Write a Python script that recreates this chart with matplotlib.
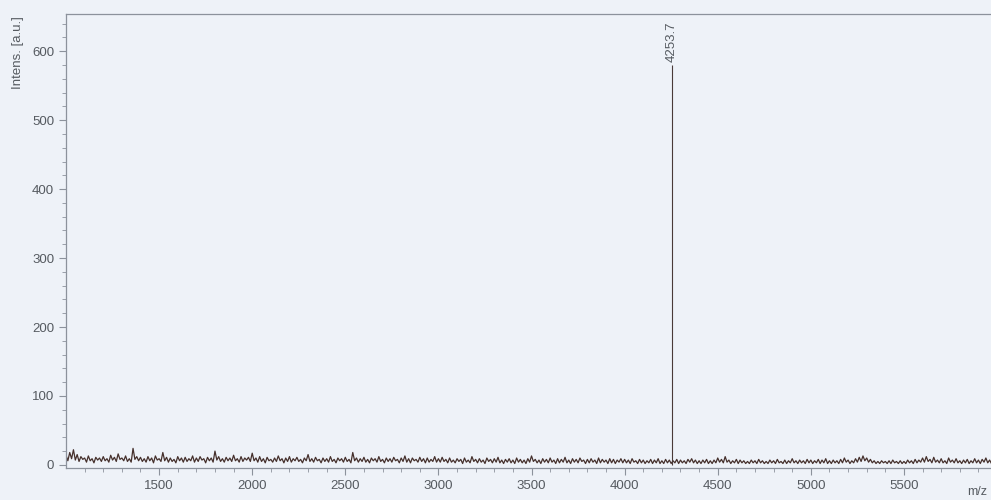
import numpy as np
import matplotlib
matplotlib.use("Agg")
import matplotlib.pyplot as plt

# baseline noise in 10 Da steps
mz_start = 1000
mz_step = 10
noise_1000 = [14, 6, 18, 9, 22, 7, 15, 5, 12, 8, 10, 4, 13, 6, 9, 3, 11, 7, 10, 5,
              12, 6, 9, 4, 14, 7, 11, 5, 16, 8, 10, 6, 13, 5, 9, 4, 24, 8, 12, 6,
              11, 5, 9, 4, 12, 6, 10, 3, 13, 7, 9, 5, 18, 6, 11, 4, 10, 5, 8, 3,
              12, 6, 10, 4, 11, 5, 9, 6, 13, 4, 10, 5, 12, 7, 9, 3, 11, 6, 10, 4,
              20, 7, 12, 5, 9, 4, 11, 6, 10, 5, 14, 6, 9, 4, 12, 5, 10, 7, 11, 5]
noise_2000 = [17, 6, 10, 4, 12, 5, 9, 3, 11, 6, 8, 4, 10, 5, 13, 6, 9, 3, 10, 5,
              12, 4, 9, 6, 11, 5, 8, 3, 10, 6, 15, 5, 9, 4, 11, 6, 8, 3, 10, 5,
              9, 4, 12, 5, 8, 3, 10, 6, 9, 4, 11, 5, 8, 3, 18, 6, 10, 4, 9, 5,
              11, 4, 8, 3, 10, 6, 9, 4, 12, 5, 8, 3, 10, 5, 9, 4, 11, 6, 8, 3,
              10, 5, 13, 4, 9, 3, 10, 6, 8, 4, 11, 5, 9, 3, 10, 4, 8, 5, 12, 4]
noise_3000 = [9, 4, 11, 5, 8, 3, 10, 4, 7, 3, 9, 5, 8, 2, 10, 4, 7, 3, 12, 5,
              8, 3, 9, 4, 7, 2, 10, 5, 8, 3, 9, 4, 11, 3, 7, 2, 8, 4, 9, 3,
              7, 2, 10, 4, 8, 3, 7, 2, 9, 4, 13, 5, 8, 3, 7, 2, 9, 4, 8, 3,
              10, 4, 7, 2, 9, 3, 8, 4, 11, 3, 7, 2, 9, 4, 8, 3, 10, 5, 7, 2,
              8, 3, 9, 4, 7, 2, 10, 3, 8, 4, 7, 2, 9, 3, 8, 2, 7, 4, 9, 3]
noise_4000 = [8, 3, 7, 2, 9, 4, 6, 2, 8, 3, 7, 2, 6, 3, 8, 2, 7, 3, 9, 2,
              6, 2, 8, 3, 7, 2, 6, 3, 8, 2, 7, 3, 6, 2, 8, 4, 9, 3, 7, 2,
              6, 2, 7, 3, 8, 2, 6, 2, 7, 3, 10, 4, 8, 3, 12, 4, 7, 2, 6, 3,
              8, 2, 7, 3, 6, 2, 5, 2, 7, 3, 6, 2, 8, 3, 6, 2, 5, 2, 7, 3,
              6, 2, 8, 3, 5, 2, 7, 2, 6, 3, 9, 3, 6, 2, 7, 3, 6, 2, 8, 3]
noise_5000 = [7, 2, 6, 3, 8, 2, 7, 3, 9, 2, 6, 2, 7, 3, 6, 2, 8, 3, 10, 4,
              7, 2, 6, 3, 9, 4, 11, 5, 13, 6, 10, 4, 8, 3, 6, 2, 5, 2, 6, 3,
              5, 2, 6, 2, 7, 3, 5, 2, 6, 2, 5, 2, 7, 3, 6, 2, 8, 3, 7, 4,
              10, 4, 12, 5, 8, 3, 11, 4, 7, 3, 9, 3, 6, 2, 10, 4, 7, 3, 9, 3,
              6, 2, 7, 3, 8, 2, 6, 3, 9, 3, 7, 2, 8, 4, 10, 3, 7, 2, 8, 3, 6]

peak_mz = 4253.7
peak_int = 580
peak_label = "4253.7"

noise = noise_1000 + noise_2000 + noise_3000 + noise_4000 + noise_5000
mz = mz_start + mz_step * np.arange(len(noise))

bg = "#eef2f8"
grey = "#8c929c"
txt = "#555a60"

fig = plt.figure(figsize=(9.91, 5.0), dpi=100, facecolor=bg)
ax = fig.add_axes([0.0666, 0.064, 0.9395, 0.908], facecolor=bg)

ax.plot(mz, noise, color="#45302c", lw=0.9)
ax.vlines(peak_mz, 0, peak_int, color="#4a3a38", lw=0.8)
ax.text(peak_mz, 584, peak_label, rotation=90, ha="center", va="bottom",
        fontsize=9.5, color=txt, family="Liberation Sans")

ax.set_xlim(1000, 6000)
ax.set_ylim(-4.5, 654)
ax.set_xticks(np.arange(1500, 6000, 500))
ax.set_xticks(np.arange(1100, 6000, 100), minor=True)
ax.set_yticks(np.arange(0, 700, 100))
ax.set_yticks(np.arange(0, 660, 20), minor=True)

for s in ["top", "left", "bottom"]:
    ax.spines[s].set_color(grey)
    ax.spines[s].set_linewidth(0.9)
ax.spines["right"].set_visible(False)

ax.tick_params(which="major", direction="out", length=5, color=grey,
               labelsize=9.5, labelcolor=txt)
ax.tick_params(which="minor", direction="out", length=3, color=grey)
for lab in ax.get_xticklabels() + ax.get_yticklabels():
    lab.set_family("Liberation Sans")

ax.set_ylabel("Intens. [a.u.]", fontsize=9.5, color=txt, family="Liberation Sans")
ax.yaxis.set_label_coords(-0.045, 0.915)
fig.text(0.976, 0.01, "m/z", fontsize=9, color=txt, family="Liberation Sans")

fig.savefig("out.png", dpi=100, facecolor=bg)
